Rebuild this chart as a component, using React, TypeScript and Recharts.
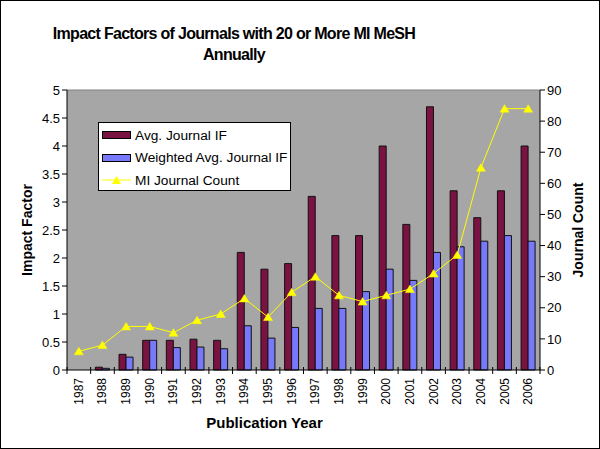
import React from 'react';
import { ComposedChart, Bar, Line, XAxis, YAxis, CartesianGrid, Legend, ReferenceLine, Label } from 'recharts';

const years = ['1987', '1988', '1989', '1990', '1991', '1992', '1993', '1994', '1995', '1996', '1997', '1998', '1999', '2000', '2001', '2002', '2003', '2004', '2005', '2006'];
const avgIF = [0, 0.05, 0.28, 0.53, 0.53, 0.55, 0.53, 2.1, 1.8, 1.9, 3.1, 2.4, 2.4, 4.0, 2.6, 4.7, 3.2, 2.72, 3.2, 4.0];
const weightedIF = [0, 0.03, 0.23, 0.53, 0.4, 0.41, 0.38, 0.79, 0.57, 0.76, 1.1, 1.1, 1.4, 1.8, 1.6, 2.1, 2.2, 2.3, 2.4, 2.3];
const journalCount = [6, 8, 14, 14, 12, 16, 18, 23, 17, 25, 30, 24, 22, 24, 26, 31, 37, 65, 84, 84];
const leftTicks = [0, 0.5, 1, 1.5, 2, 2.5, 3, 3.5, 4, 4.5, 5];
const rightTicks = [0, 10, 20, 30, 40, 50, 60, 70, 80, 90];

const data = years.map((year, i) => ({
  year,
  avg: avgIF[i],
  weighted: weightedIF[i],
  count: journalCount[i],
}));

const FONT = '"Liberation Sans", Arial, sans-serif';
const MAROON = '#7A1242';
const BLUE = '#7878FA';
const YELLOW = '#FFFF00';
const W = 600;
const H = 449;
const LEFT_W = 66;
const RIGHT_W = 61;
const PLOT_BOTTOM = 369;
const HALF_BAND = (W - LEFT_W - RIGHT_W) / years.length / 2;

const Triangle = ({ cx, cy }: any) => {
  if (cx == null || cy == null) return null;
  return <polygon points={`${cx - 4.5},${cy + 3.5} ${cx + 4.5},${cy + 3.5} ${cx},${cy - 4}`} fill={YELLOW} stroke={YELLOW} strokeWidth={0.5} />;
};

const YearTick = ({ x, payload, index }: any) => {
  const half = payload && payload.offset > 0 ? payload.offset : HALF_BAND;
  const ty = PLOT_BOTTOM;
  return (
    <g>
      <line x1={x - half} x2={x - half} y1={ty - 3} y2={ty + 4} stroke="#000" />
      {index === years.length - 1 && <line x1={x + half} x2={x + half} y1={ty - 3} y2={ty + 4} stroke="#000" />}
      <text
        x={x}
        y={ty + 8}
        transform={`rotate(-90, ${x}, ${ty + 8})`}
        textAnchor="end"
        dominantBaseline="central"
        fontSize={12}
        fontFamily={FONT}
        fill="#000"
      >
        {payload.value}
      </text>
    </g>
  );
};

const LegendBox = () => (
  <div
    style={{
      background: '#fff',
      border: '1px solid #000',
      width: 193,
      height: 69,
      boxSizing: 'border-box',
      padding: '1px 0 0 3px',
      fontFamily: FONT,
      fontSize: 13.7,
      color: '#000',
      textAlign: 'left',
    }}
  >
    <div style={{ display: 'flex', alignItems: 'center', height: 22.5 }}>
      <div style={{ width: 27, height: 6, background: MAROON, border: '1px solid #000', marginRight: 4, flexShrink: 0 }} />
      <span>Avg. Journal IF</span>
    </div>
    <div style={{ display: 'flex', alignItems: 'center', height: 22.5, whiteSpace: 'nowrap' }}>
      <div style={{ width: 27, height: 6, background: BLUE, border: '1px solid #000', marginRight: 4, flexShrink: 0 }} />
      <span>Weighted Avg. Journal IF</span>
    </div>
    <div style={{ display: 'flex', alignItems: 'center', height: 22.5 }}>
      <svg width={29} height={10} style={{ marginRight: 4, flexShrink: 0 }}>
        <line x1={0} x2={29} y1={5} y2={5} stroke={YELLOW} />
        <polygon points="10,9 19,9 14.5,1" fill={YELLOW} />
      </svg>
      <span>MI Journal Count</span>
    </div>
  </div>
);

export default function App() {
  return (
    <div
      style={{
        position: 'absolute',
        left: 0,
        top: 0,
        width: W,
        height: H,
        background: '#fff',
        border: '1px solid #000',
        boxSizing: 'border-box',
        fontFamily: FONT,
      }}
    >
      <div style={{ position: 'absolute', left: 0, top: 0, width: W, height: H }}>
        <div
          style={{
            position: 'absolute',
            left: 33,
            width: 400,
            top: 22,
            textAlign: 'center',
            fontWeight: 'bold',
            fontSize: 16,
            lineHeight: '21px',
            letterSpacing: -0.7,
            whiteSpace: 'nowrap',
          }}
        >
          Impact Factors of Journals with 20 or More MI MeSH
          <br />
          Annually
        </div>
        <ComposedChart
          width={W}
          height={H}
          data={data}
          margin={{ top: 89, right: 0, bottom: 0, left: 0 }}
          barCategoryGap="20%"
          barGap={0}
        >
          <CartesianGrid fill="#A6A6A6" horizontal={false} vertical={false} />
          <XAxis
            dataKey="year"
            height={H - PLOT_BOTTOM}
            axisLine={{ stroke: '#000' }}
            tickLine={false}
            interval={0}
            tick={<YearTick />}
          >
            <Label value="Publication Year" position="insideBottom" offset={22} fontSize={15} fontWeight="bold" fill="#000" fontFamily={FONT} dx={-39} />
          </XAxis>
          <YAxis
            yAxisId="left"
            width={LEFT_W}
            domain={[0, 5]}
            ticks={leftTicks}
            interval={0}
            tickSize={5}
            axisLine={{ stroke: '#000' }}
            tickLine={{ stroke: '#000' }}
            tick={{ fontSize: 13, fill: '#000', fontFamily: FONT }}
          >
            <Label value="Impact Factor" angle={-90} position="insideLeft" offset={26} fontSize={14} fontWeight="bold" fill="#000" fontFamily={FONT} style={{ textAnchor: 'middle' }} />
          </YAxis>
          <YAxis
            yAxisId="right"
            orientation="right"
            width={RIGHT_W}
            domain={[0, 90]}
            ticks={rightTicks}
            interval={0}
            tickSize={5}
            axisLine={{ stroke: '#000' }}
            tickLine={{ stroke: '#000' }}
            tick={{ fontSize: 13, fill: '#000', fontFamily: FONT }}
          >
            <Label value="Journal Count" angle={-90} position="insideRight" offset={23} fontSize={14} fontWeight="bold" fill="#000" fontFamily={FONT} style={{ textAnchor: 'middle' }} />
          </YAxis>
          <ReferenceLine yAxisId="left" y={5} stroke="#808080" />
          <Legend
            content={<LegendBox />}
            layout="horizontal"
            align="center"
            verticalAlign="middle"
            wrapperStyle={{ left: 97, top: 121, width: 193, height: 69 }}
          />
          <Bar yAxisId="left" dataKey="avg" name="Avg. Journal IF" fill={MAROON} stroke="#111" strokeWidth={1} isAnimationActive={false} />
          <Bar yAxisId="left" dataKey="weighted" name="Weighted Avg. Journal IF" fill={BLUE} stroke="#111" strokeWidth={1} isAnimationActive={false} />
          <Line
            yAxisId="right"
            type="linear"
            dataKey="count"
            name="MI Journal Count"
            stroke={YELLOW}
            strokeWidth={1}
            dot={<Triangle />}
            activeDot={false}
            isAnimationActive={false}
          />
        </ComposedChart>
      </div>
    </div>
  );
}
